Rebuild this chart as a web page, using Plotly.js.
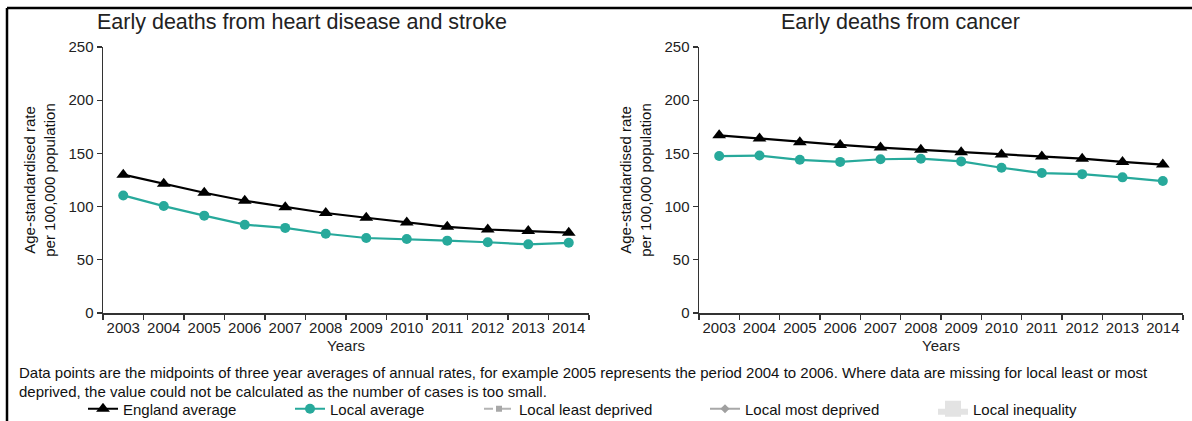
<!DOCTYPE html>
<html>
<head>
<meta charset="utf-8">
<script src="https://cdn.plot.ly/plotly-3.0.1.min.js"></script>
<style>html,body{margin:0;padding:0;background:#fff;}#chart{width:1192px;height:421px;}</style>
</head>
<body>
<div id="chart"></div>
<script>
const years = ['2003','2004','2005','2006','2007','2008','2009','2010','2011','2012','2013','2014'];
// Early deaths from heart disease and stroke
const heartEngland = [130, 121.5, 113, 105.5, 99.5, 94, 89.5, 85, 81, 78.5, 77, 75.5];
const heartLocal   = [110.5, 100.5, 91.5, 83, 80, 74.5, 70.5, 69.5, 68, 66.5, 64.5, 66];
// Early deaths from cancer
const cancerEngland = [167, 164, 160.5, 158, 155.5, 153.5, 151, 149, 147, 145, 142, 139.5];
const cancerLocal   = [147.5, 148, 144, 142, 144.5, 145, 142.5, 136.5, 131.5, 130.5, 127.5, 124];
// Local least / most deprived and inequality: not available (all missing)
const leastDeprived = [null,null,null,null,null,null,null,null,null,null,null,null];
const mostDeprived  = [null,null,null,null,null,null,null,null,null,null,null,null];
const inequality    = [null,null,null,null,null,null,null,null,null,null,null,null];

const noteLines = [
  'Data points are the midpoints of three year averages of annual rates, for example 2005 represents the period 2004 to 2006. Where data are missing for local least or most',
  'deprived, the value could not be calculated as the number of cases is too small.'
];

const W = 1192, H = 421;
const FONT = 'Liberation Sans, Arial, sans-serif';
const teal = '#27a99b';

function px(x){ return x / W; }
function py(y){ return 1 - y / H; }

const traces = [
  {x: years, y: heartEngland, xaxis:'x', yaxis:'y', name:'England average', mode:'lines+markers',
   line:{color:'#000', width:2.2}, marker:{symbol:'triangle-up', size:12, color:'#000'}, legend:'legend'},
  {x: years, y: heartLocal, xaxis:'x', yaxis:'y', name:'Local average', mode:'lines+markers',
   line:{color:teal, width:2.2}, marker:{symbol:'circle', size:10, color:teal}, legend:'legend2'},
  {x: years, y: cancerEngland, xaxis:'x2', yaxis:'y2', name:'England average', mode:'lines+markers', showlegend:false,
   line:{color:'#000', width:2.2}, marker:{symbol:'triangle-up', size:12, color:'#000'}},
  {x: years, y: cancerLocal, xaxis:'x2', yaxis:'y2', name:'Local average', mode:'lines+markers', showlegend:false,
   line:{color:teal, width:2.2}, marker:{symbol:'circle', size:10, color:teal}},
  {x: years, y: leastDeprived, xaxis:'x', yaxis:'y', name:'Local least deprived', mode:'lines+markers', showlegend:true,
   line:{color:'#b4b4b4', width:2, dash:'dash'}, marker:{symbol:'square', size:6, color:'#a8a8a8'}, legend:'legend3'},
  {x: years, y: mostDeprived, xaxis:'x', yaxis:'y', name:'Local most deprived', mode:'lines+markers', showlegend:true,
   line:{color:'#a8a8a8', width:2}, marker:{symbol:'diamond', size:7, color:'#a0a0a0'}, legend:'legend4'},
  {x: years, y: inequality, xaxis:'x', yaxis:'y', name:'Local inequality', mode:'markers', fill:'toself', showlegend:true,
   fillcolor:'#e3e3e3', marker:{symbol:'square', size:18, color:'#e3e3e3'}, legend:'legend5'}
];

const yAxisCommon = {
  range:[0,250], tickvals:[0,50,100,150,200,250], ticks:'outside', ticklen:5, tickwidth:1.2, tickcolor:'#333',
  showline:true, linecolor:'#333', linewidth:1.5, showgrid:false, zeroline:false, automargin:false,
  tickfont:{family:FONT, size:15, color:'#222'},
  title:{text:'Age-standardised rate<br>per 100,000 population', font:{family:FONT, size:15, color:'#111'}, standoff:9},
  fixedrange:true
};
const xAxisCommon = {
  type:'category', range:[-0.5,11.5], ticks:'outside', tickson:'boundaries', ticklen:5, tickwidth:1.2, tickcolor:'#333',
  showline:true, linecolor:'#333', linewidth:1.5, showgrid:false, zeroline:false, automargin:false, tickangle:0,
  tickfont:{family:FONT, size:15, color:'#222'},
  title:{text:'Years', font:{family:FONT, size:15, color:'#222'}, standoff:6},
  fixedrange:true
};

const yTop = py(47), yBot = py(313);
function legendAt(x){
  return {orientation:'h', x:px(x), xanchor:'left', y:py(409), yanchor:'middle',
    bgcolor:'rgba(0,0,0,0)', font:{family:FONT, size:15, color:'#111'}, borderwidth:0};
}

const noteAnn = noteLines.map((t, i) => ({
  text:t, xref:'paper', yref:'paper', x:px(17), y:py(372 + 19*i), xanchor:'left', yanchor:'middle', align:'left',
  showarrow:false, font:{family:FONT, size:15, color:'#111'}
}));

const layout = {
  width:W, height:H, margin:{l:0,r:0,t:0,b:0, autoexpand:false}, paper_bgcolor:'#fff', plot_bgcolor:'#fff',
  showlegend:true,
  xaxis: Object.assign({}, xAxisCommon, {domain:[px(103), px(589)], anchor:'y'}),
  yaxis: Object.assign({}, yAxisCommon, {domain:[yBot, yTop], anchor:'x'}),
  xaxis2: Object.assign({}, xAxisCommon, {domain:[px(699), px(1183)], anchor:'y2'}),
  yaxis2: Object.assign({}, yAxisCommon, {domain:[yBot, yTop], anchor:'x2'}),
  legend: legendAt(83),
  legend2: legendAt(290),
  legend3: legendAt(479),
  legend4: legendAt(705),
  legend5: legendAt(933),
  annotations: [
    {text:'Early deaths from heart disease and stroke', xref:'paper', yref:'paper', x:px(302), y:py(22),
     xanchor:'center', yanchor:'middle', showarrow:false, font:{family:FONT, size:21.5, color:'#222'}},
    {text:'Early deaths from cancer', xref:'paper', yref:'paper', x:px(900), y:py(22),
     xanchor:'center', yanchor:'middle', showarrow:false, font:{family:FONT, size:21.5, color:'#222'}}
  ].concat(noteAnn),
  shapes: [
    {type:'line', xref:'paper', yref:'paper', x0:px(7), x1:1, y0:py(8), y1:py(8), line:{color:'#000', width:2.5}},
    {type:'line', xref:'paper', yref:'paper', x0:px(7), x1:px(7), y0:py(8), y1:0, line:{color:'#000', width:2.5}}
  ]
};

Plotly.newPlot('chart', traces, layout, {displayModeBar:false, staticPlot:true});
</script>
</body>
</html>
